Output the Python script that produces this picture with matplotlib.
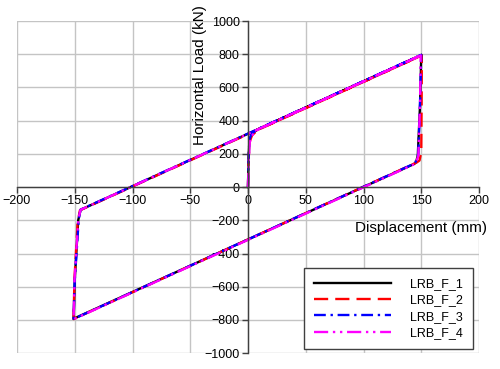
import numpy as np
import matplotlib
matplotlib.use('Agg')
import matplotlib.pyplot as plt

plt.rcParams['font.family'] = ['Liberation Sans', 'DejaVu Sans']

# displacement (mm) / horizontal load (kN)
disp_1 = [0, 0.4, 1.2, 3.0, 8.0, 150.0, 149.0, 147.0, 145.5, 144.0, -151.0, -150.0, -147.0, -145.0, 150.0]
load_1 = [0, 150, 280, 318, 346, 795, 500, 190, 150, 140, -793, -560, -200, -137, 795]

disp_2 = [0, 0.4, 1.3, 3.5, 8.5, 150.5, 150.3, 150.0, 148.5, 146.0, -151.0, -150.3, -147.5, -145.5, 150.5]
load_2 = [0, 140, 270, 312, 344, 793, 500, 210, 160, 148, -795, -560, -210, -140, 793]

disp_3 = [0, 0.4, 1.2, 3.0, 8.0, 150.0, 149.0, 147.5, 145.0, 143.5, -151.0, -150.0, -146.5, -145.0, 150.0]
load_3 = [0, 150, 285, 320, 347, 796, 520, 200, 150, 140, -794, -560, -190, -136, 796]

disp_4 = [0, 0.5, 1.5, 4.0, 9.0, 149.5, 149.0, 147.5, 145.5, 144.0, -151.0, -150.2, -147.0, -145.0, 149.5]
load_4 = [0, 140, 270, 315, 348, 793, 520, 190, 148, 138, -796, -560, -200, -137, 793]

labels = ['LRB_F_1', 'LRB_F_2', 'LRB_F_3', 'LRB_F_4']

fig = plt.figure(figsize=(5.0, 3.69), dpi=100)
ax = fig.add_axes([0.034, 0.043, 0.924, 0.9])

ax.plot(disp_1, load_1, color='black', lw=1.7, ls='-', label=labels[0])
ax.plot(disp_2, load_2, color='red', lw=1.7, ls=(0, (6, 3)), label=labels[1])
ax.plot(disp_3, load_3, color='blue', lw=1.7, ls=(0, (5, 2, 1, 2)), label=labels[2])
ax.plot(disp_4, load_4, color='magenta', lw=1.7, ls=(0, (6, 2, 1, 2, 1, 2)), label=labels[3])

ax.set_xlim(-200, 200)
ax.set_ylim(-1000, 1000)
ax.set_xticks(np.arange(-200, 201, 50))
ax.set_yticks(np.arange(-1000, 1001, 200))
ax.grid(True, color='#c4c4c4', lw=1.0)
ax.set_axisbelow(True)

ax.spines['left'].set_position('zero')
ax.spines['bottom'].set_position('zero')
ax.spines['top'].set_visible(False)
ax.spines['right'].set_visible(False)
for s in ('left', 'bottom'):
    ax.spines[s].set_color('#404040')
    ax.spines[s].set_linewidth(1.0)
ax.tick_params(direction='out', length=4, width=1.0, color='#404040', labelsize=9, pad=2)

ax.set_xlabel('Displacement (mm)', fontsize=11, ha='right', va='top')
ax.xaxis.set_label_coords(1.017, 0.398)
ax.set_ylabel('Horizontal Load (kN)', fontsize=11)
ax.yaxis.set_label_coords(0.411, 0.837)

leg = ax.legend(loc='lower right', bbox_to_anchor=(0.987, 0.012),
                bbox_transform=ax.transAxes, borderaxespad=0, fontsize=9,
                frameon=True, fancybox=False, framealpha=1, edgecolor='#404040',
                handlelength=6.2, handletextpad=1.5,
                labelspacing=0.35, borderpad=0.8)
leg.get_frame().set_linewidth(1.0)

fig.savefig('out.png', dpi=100)
